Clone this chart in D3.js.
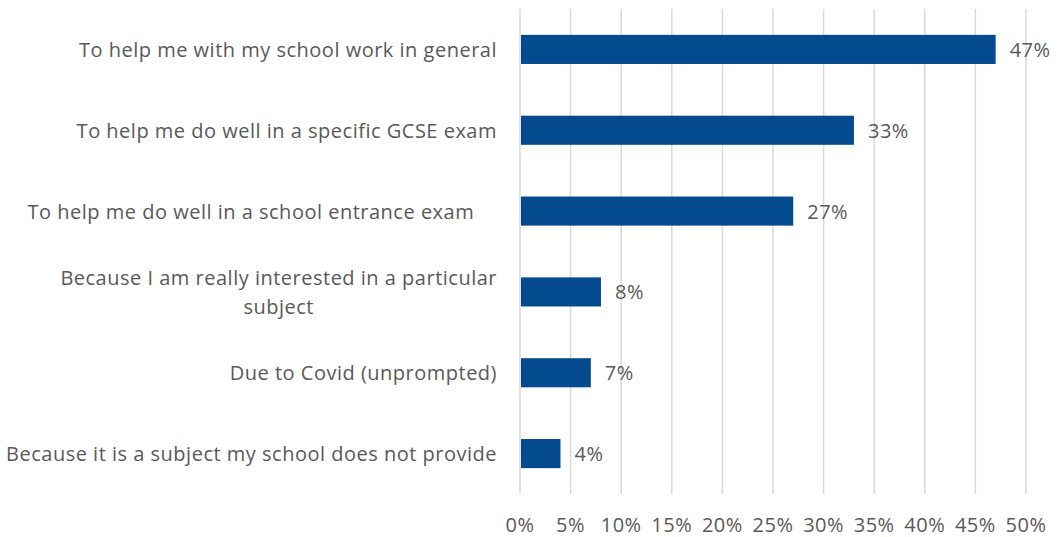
<!DOCTYPE html>
<html>
<head>
<meta charset="utf-8">
<script src="https://cdn.jsdelivr.net/npm/d3@7/dist/d3.min.js"></script>
<style>
  html, body { margin: 0; padding: 0; background: #fff; }
  svg text { font-family: "Open Sans", sans-serif; fill: #595959; white-space: pre; letter-spacing: 0.5px; }
</style>
</head>
<body>
<svg id="chart" width="1058" height="537"></svg>
<script>
// Reasons for getting private tuition
const categories = [
  ["To help me with my school work in general"],
  ["To help me do well in a specific GCSE exam"],
  ["To help me do well in a school entrance exam    "],
  ["Because I am really interested in a particular", "subject"],
  ["Due to Covid (unprompted)"],
  ["Because it is a subject my school does not provide"]
];
const values = [47, 33, 27, 8, 7, 4];
const tickValues = [0, 5, 10, 15, 20, 25, 30, 35, 40, 45, 50];

const svg = d3.select("#chart");
const margin = { left: 520, right: 32, top: 9, bottom: 43 };
const W = 1058, H = 537;
const fs = 20;

const x = d3.scaleLinear().domain([0, 50]).range([margin.left, W - margin.right]);
const y = d3.scaleBand().domain(d3.range(values.length))
  .range([margin.top, H - margin.bottom]).paddingInner(0.64).paddingOuter(0.32);

// vertical gridlines
svg.append("g").selectAll("line").data(tickValues).join("line")
  .attr("x1", d => x(d)).attr("x2", d => x(d))
  .attr("y1", margin.top).attr("y2", H - margin.bottom)
  .attr("stroke", "#d9d9d9").attr("stroke-width", 1.5);

// x tick labels
svg.append("g").selectAll("text").data(tickValues).join("text")
  .attr("x", d => x(d)).attr("y", 524)
  .attr("text-anchor", "middle").attr("dominant-baseline", "central")
  .attr("font-size", fs)
  .text(d => d + "%");

// bars
svg.append("g").selectAll("rect").data(values).join("rect")
  .attr("x", x(0) + 1).attr("y", (d, i) => y(i))
  .attr("width", d => x(d) - x(0) - 1).attr("height", y.bandwidth())
  .attr("fill", "#044a8f");

// value labels
svg.append("g").selectAll("text").data(values).join("text")
  .attr("x", d => x(d) + 14).attr("y", (d, i) => y(i) + y.bandwidth() / 2)
  .attr("dominant-baseline", "central").attr("font-size", fs)
  .text(d => d + "%");

// category labels: right-aligned block, wrapped lines centred within it
const labelRight = 497;
const lineH = 29;
categories.forEach((lines, i) => {
  const cy = y(i) + y.bandwidth() / 2;
  const g = svg.append("text").attr("font-size", fs).attr("dominant-baseline", "central");
  const n = lines.length;
  if (n === 1) {
    g.attr("x", labelRight).attr("y", cy).attr("text-anchor", "end").text(lines[0]);
  } else {
    const spans = lines.map((t, k) => g.append("tspan")
      .attr("y", cy + (k - (n - 1) / 2) * lineH).text(t));
    const widest = d3.max(spans, s => s.node().getComputedTextLength());
    const cx = labelRight - widest / 2;
    spans.forEach(s => s.attr("x", cx).attr("text-anchor", "middle"));
  }
});
</script>
</body>
</html>
